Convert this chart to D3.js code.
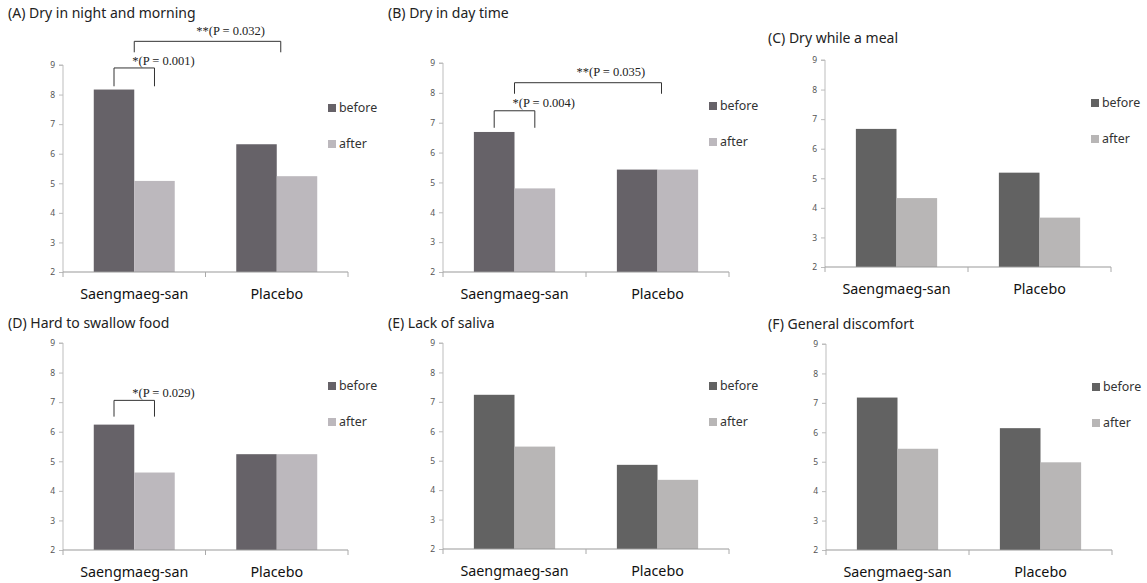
<!DOCTYPE html>
<html>
<head>
<meta charset="utf-8">
<script src="https://cdn.jsdelivr.net/npm/d3@7"></script>
<style>
  html, body { margin: 0; padding: 0; background: #fff; }
  svg { display: block; }
</style>
</head>
<body>
<svg id="chart" width="1147" height="583"></svg>
<script>
// ---------------- DATA ----------------
const categories = ["Saengmaeg-san", "Placebo"];
const seriesNames = ["before", "after"];
const yTicks = [2, 3, 4, 5, 6, 7, 8, 9];

const panelTitles = [
  "(A) Dry in night and morning",
  "(B) Dry in day time",
  "(C) Dry while a meal",
  "(D) Hard to swallow food",
  "(E) Lack of saliva",
  "(F) General discomfort"
];

// values: [Saengmaeg-san, Placebo]
const beforeA = [8.17, 6.32];
const afterA  = [5.08, 5.24];
const beforeB = [6.69, 5.43];
const afterB  = [4.80, 5.43];
const beforeC = [6.67, 5.19];
const afterC  = [4.33, 3.67];
const beforeD = [6.24, 5.24];
const afterD  = [4.62, 5.24];
const beforeE = [7.24, 4.86];
const afterE  = [5.48, 4.35];
const beforeF = [7.18, 6.14];
const afterF  = [5.44, 4.98];

// significance annotations
const withinLabels  = ["*(P = 0.001)", "*(P = 0.004)", null, "*(P = 0.029)", null, null];
const betweenLabels = ["**(P = 0.032)", "**(P = 0.035)", null, null, null, null];

// ---------------- LAYOUT ----------------
const layout = [
  {left: 63,  right: 348,  top: 65,  bottom: 272, tx: 8,   ty: 13,  tone: "warm",
   inner: {bar: 8.90, drop: 8.28, text: 9.16}, outer: {bar: 9.80, drop: 9.43, text: 10.17}},
  {left: 443, right: 729,  top: 63,  bottom: 272, tx: 388, ty: 13,  tone: "warm",
   inner: {bar: 7.40, drop: 6.83, text: 7.67}, outer: {bar: 8.34, drop: 7.97, text: 8.71}},
  {left: 825, right: 1111, top: 60,  bottom: 267, tx: 768, ty: 38,  tone: "neutral"},
  {left: 63,  right: 348,  top: 343, bottom: 550, tx: 8,   ty: 323, tone: "warm",
   inner: {bar: 7.06, drop: 6.51, text: 7.32}},
  {left: 443, right: 729,  top: 343, bottom: 549, tx: 388, ty: 323, tone: "neutral"},
  {left: 826, right: 1112, top: 344, bottom: 550, tx: 768, ty: 324, tone: "neutral"}
];

const palettes = {
  warm:    {before: "#666268", after: "#bcb8bd"},
  neutral: {before: "#626262", after: "#b8b6b6"}
};

const befores = [beforeA, beforeB, beforeC, beforeD, beforeE, beforeF];
const afters  = [afterA, afterB, afterC, afterD, afterE, afterF];

const svg = d3.select("#chart");
const sansFont = "'Noto Sans', 'Open Sans', sans-serif";
const serifFont = "'Liberation Serif', 'DejaVu Serif', serif";

layout.forEach((L, i) => {
  const g = svg.append("g");
  const pal = palettes[L.tone];

  const y = d3.scaleLinear().domain([2, 9]).range([L.bottom, L.top]);
  const x = d3.scaleBand().domain(categories).range([L.left, L.right]).paddingInner(0).paddingOuter(0);
  const xs = d3.scaleBand().domain(seriesNames).range([0, x.bandwidth()]).paddingInner(0).paddingOuter(0.76);

  // title
  g.append("text")
    .attr("x", L.tx).attr("y", L.ty)
    .attr("dy", "0.35em")
    .attr("font-family", sansFont)
    .attr("font-size", 14)
    .attr("fill", "#222")
    .text(panelTitles[i]);

  // bars
  const rows = categories.map((c, k) => ({cat: c, before: befores[i][k], after: afters[i][k]}));
  const grp = g.selectAll("g.cat").data(rows).enter().append("g")
    .attr("transform", d => `translate(${x(d.cat)},0)`);
  grp.selectAll("rect").data(d => seriesNames.map(s => ({s, v: d[s]}))).enter().append("rect")
    .attr("x", d => xs(d.s))
    .attr("width", xs.bandwidth())
    .attr("y", d => y(d.v))
    .attr("height", d => y(2) - y(d.v))
    .attr("fill", d => pal[d.s]);

  // y axis
  const yAxis = d3.axisLeft(y).tickValues(yTicks).tickSize(4).tickPadding(4).tickFormat(d3.format("d"));
  const ya = g.append("g").attr("transform", `translate(${L.left},0)`).call(yAxis);
  ya.select(".domain").attr("stroke", "#bdbdbd").attr("d", `M-4,${L.top}H0V${L.bottom}`);
  ya.selectAll(".tick line").attr("stroke", "#bdbdbd");
  ya.selectAll(".tick text").attr("font-family", sansFont).attr("font-size", 8.5).attr("fill", "#555");

  // x axis
  const xa = g.append("g").attr("transform", `translate(0,${L.bottom})`);
  xa.append("line").attr("x1", L.left).attr("x2", L.right).attr("y1", 0).attr("y2", 0)
    .attr("stroke", "#999");
  const bounds = [L.left, x(categories[1]), L.right];
  xa.selectAll("line.tk").data(bounds).enter().append("line")
    .attr("class", "tk")
    .attr("x1", d => d).attr("x2", d => d).attr("y1", 0).attr("y2", 5)
    .attr("stroke", "#aaa");
  xa.selectAll("text.cat").data(categories).enter().append("text")
    .attr("class", "cat")
    .attr("x", d => x(d) + x.bandwidth() / 2)
    .attr("y", 22)
    .attr("dy", "0.35em")
    .attr("text-anchor", "middle")
    .attr("font-family", sansFont)
    .attr("font-size", 14.3)
    .attr("fill", "#111")
    .text(d => d);

  // legend
  const lg = g.append("g");
  seriesNames.forEach((s, k) => {
    const cy = L.top + 43 + k * 36;
    lg.append("rect").attr("x", L.right - 20).attr("y", cy - 4).attr("width", 8).attr("height", 8)
      .attr("fill", pal[s]);
    lg.append("text").attr("x", L.right - 9).attr("y", cy).attr("dy", "0.35em")
      .attr("font-family", sansFont).attr("font-size", 12.4).attr("fill", "#333").text(s);
  });

  // annotations
  const sCenter = x(categories[0]) + x.bandwidth() / 2;
  const pCenter = x(categories[1]) + x.bandwidth() / 2;
  if (withinLabels[i]) {
    const a = L.inner;
    const xl = x(categories[0]) + xs("before") + xs.bandwidth() / 2;
    const xr = x(categories[0]) + xs("after") + xs.bandwidth() / 2;
    g.append("path")
      .attr("d", `M${xl},${y(a.drop)}V${y(a.bar)}H${xr}V${y(a.drop)}`)
      .attr("fill", "none").attr("stroke", "#333").attr("stroke-width", 1);
    g.append("text").attr("x", sCenter - 2).attr("y", y(a.text)).attr("dy", "0.35em")
      .attr("font-family", serifFont).attr("font-size", 12.5).attr("fill", "#222")
      .text(withinLabels[i]);
  }
  if (betweenLabels[i]) {
    const a = L.outer;
    const xl = sCenter;
    const xr = pCenter + 4;
    g.append("path")
      .attr("d", `M${xl},${y(a.drop)}V${y(a.bar)}H${xr}V${y(a.drop)}`)
      .attr("fill", "none").attr("stroke", "#333").attr("stroke-width", 1);
    g.append("text").attr("x", sCenter + 62).attr("y", y(a.text)).attr("dy", "0.35em")
      .attr("font-family", serifFont).attr("font-size", 12.5).attr("fill", "#222")
      .text(betweenLabels[i]);
  }
});
</script>
</body>
</html>
